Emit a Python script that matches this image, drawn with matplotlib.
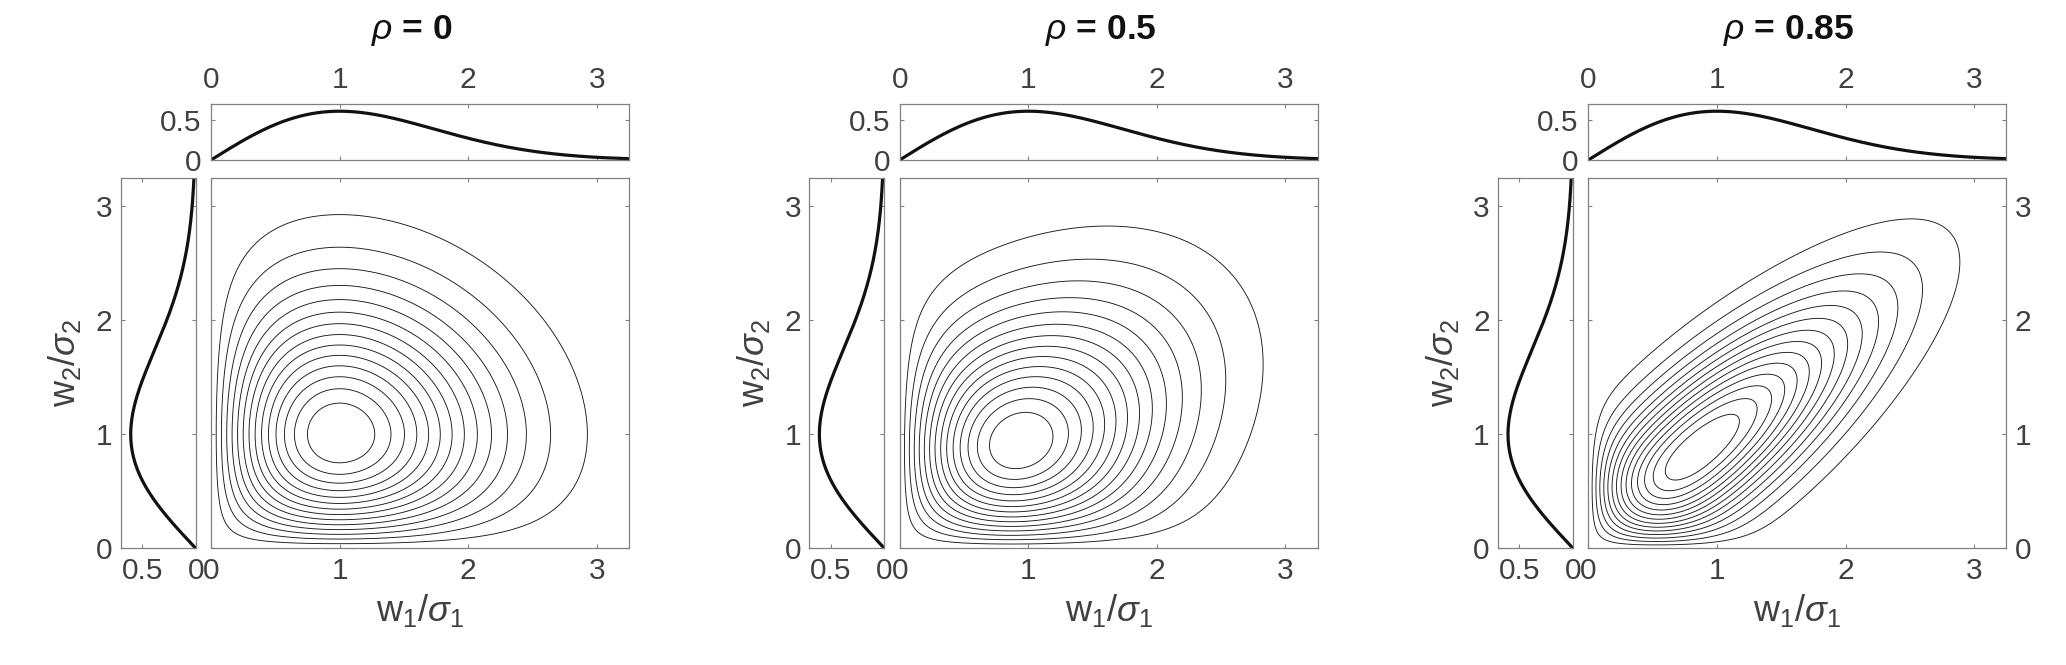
import numpy as np
import matplotlib
matplotlib.use('Agg')
import matplotlib.pyplot as plt

# ---------------- data ----------------
rho_values = [0.0, 0.5, 0.85]
title_values = ['0', '0.5', '0.85']
main_ticks = [0, 1, 2, 3]
main_ticklabels = ['0', '1', '2', '3']
top_yticks = [0, 0.5]
top_yticklabels = ['0', '0.5']
side_xticks = [0, 0.5]
side_xticklabels = ['0', '0.5']
n_levels = 14          # contour levels between 0 and the peak
axis_max = 3.25        # limits of normalised amplitude axes
pdf_lim = 0.7          # limit of the marginal pdf axes

# ---------------- style ----------------
plt.rcParams['font.family'] = ['Liberation Sans', 'DejaVu Sans']
plt.rcParams['mathtext.fontset'] = 'custom'
plt.rcParams['mathtext.rm'] = 'Liberation Sans'
plt.rcParams['mathtext.it'] = 'Liberation Sans:italic'
plt.rcParams['mathtext.bf'] = 'Liberation Sans:bold'

TICK_FS = 21.5
LABEL_FS = 26
TITLE_FS = 25.5
TXT = '#404040'
SPINE = '#808080'


def rayleigh_pdf(x):
    return x * np.exp(-x ** 2 / 2.0)


def bivariate_rayleigh_pdf(x, y, rho):
    q = 1.0 - rho ** 2
    return x * y / q * np.exp(-(x ** 2 + y ** 2) / (2 * q)) * np.i0(rho * x * y / q)


def style(ax):
    for s in ax.spines.values():
        s.set_color(SPINE)
        s.set_linewidth(0.9)
    ax.tick_params(direction='in', length=3.2, width=0.8, color=SPINE,
                   labelcolor=TXT, labelsize=TICK_FS, pad=6,
                   top=True, right=True, bottom=True, left=True)


W, H = 2066.0, 665.0
fig = plt.figure(figsize=(W / 100, H / 100), dpi=100)

x = np.linspace(0, axis_max, 600)
X, Y = np.meshgrid(x, x)

for i, rho in enumerate(rho_values):
    off = i * 688.65
    # main axes
    ml, mr, mt, mb = 211 + off, 629 + off, 177.7, 548.3
    ax = fig.add_axes([ml / W, 1 - mb / H, (mr - ml) / W, (mb - mt) / H])
    # top marginal
    tt, tb = 103.7, 160.0
    axt = fig.add_axes([ml / W, 1 - tb / H, (mr - ml) / W, (tb - tt) / H])
    # left marginal
    ll, lr = 120.7 + off, 195.7 + off
    axl = fig.add_axes([ll / W, 1 - mb / H, (lr - ll) / W, (mb - mt) / H])

    Z = bivariate_rayleigh_pdf(X, Y, rho)
    levels = np.linspace(0, Z.max(), n_levels + 2)[1:-1]
    ax.contour(X, Y, Z, levels=levels, colors='#1a1a1a', linewidths=0.65)
    ax.set_xlim(0, axis_max)
    ax.set_ylim(0, axis_max)
    ax.set_xticks(main_ticks)
    ax.set_xticklabels(main_ticklabels)
    ax.set_yticks(main_ticks)
    ax.set_yticklabels(main_ticklabels)
    style(ax)
    ax.tick_params(labelleft=False, labelright=(i == 2))
    ax.set_xlabel(r'w$_1$/$\sigma_1$', fontsize=LABEL_FS, color=TXT, labelpad=5)

    axt.plot(x, rayleigh_pdf(x), color='#111111', lw=2.3)
    axt.set_xlim(0, axis_max)
    axt.set_ylim(0, pdf_lim)
    axt.set_xticks(main_ticks)
    axt.set_xticklabels(main_ticklabels)
    axt.set_yticks(top_yticks)
    axt.set_yticklabels(top_yticklabels)
    style(axt)
    axt.tick_params(labelbottom=False, labeltop=True, pad=7)

    axl.plot(rayleigh_pdf(x), x, color='#111111', lw=2.3)
    axl.set_xlim(pdf_lim, 0)
    axl.set_ylim(0, axis_max)
    axl.set_xticks(side_xticks)
    axl.set_xticklabels(side_xticklabels)
    axl.set_yticks(main_ticks)
    axl.set_yticklabels(main_ticklabels)
    style(axl)
    axl.set_ylabel(r'w$_2$/$\sigma_2$', fontsize=LABEL_FS, color=TXT, labelpad=9)

    fig.text((ml + mr) / 2 / W - 0.004, 1 - 38.5 / H, r'$\rho$ = ' + title_values[i],
             ha='center', va='baseline', fontsize=TITLE_FS, fontweight='bold',
             color='#111111')

fig.savefig('out.png', dpi=100)
